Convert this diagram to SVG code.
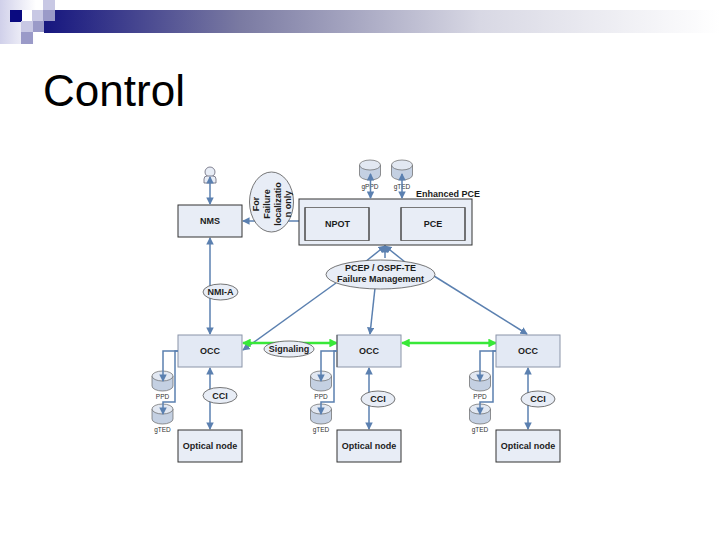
<svg xmlns="http://www.w3.org/2000/svg" width="720" height="540" viewBox="0 0 720 540">
<style>
text{font-family:"Liberation Sans",Arial,sans-serif;fill:#1c1c1c;text-anchor:middle}
.b{font-weight:bold;font-size:9px}
.s{font-size:6.500px;fill:#333}
.box{fill:#e8edf6;stroke:#333;stroke-width:1}
.occ{fill:#e3e9f4;stroke:#8a94a8;stroke-width:1}
.inner{fill:#e8edf6;stroke:#777;stroke-width:1}
.el{fill:#e8edf6;stroke:#555;stroke-width:.8}
.c{fill:none;stroke:#5b80b0;stroke-width:1.500}
.g{fill:none;stroke:#38e838;stroke-width:2.500}
.cy{fill:#c4d0e2;stroke:#666;stroke-width:.7}
.cyt{fill:#e2e8f2;stroke:#666;stroke-width:.7}
</style>
<defs>
<linearGradient id="bar"><stop offset="0" stop-color="#16167f"/><stop offset=".29" stop-color="#7a7aa2"/><stop offset=".645" stop-color="#d8d8e4"/><stop offset="1" stop-color="#fff"/></linearGradient>
<linearGradient id="fade"><stop offset="0" stop-color="#d0d0ea"/><stop offset="1" stop-color="#fff"/></linearGradient>
<marker id="a" viewBox="0 0 8 8" refX="7" refY="4" markerWidth="5" markerHeight="5" orient="auto-start-reverse"><path d="M0 0L8 4L0 8z" fill="#5b80b0"/></marker>
<marker id="ag" viewBox="0 0 8 8" refX="7" refY="4" markerWidth="3.500" markerHeight="3.500" orient="auto-start-reverse"><path d="M0 0L8 4L0 8z" fill="#38e838"/></marker>
<g id="db"><path class="cy" d="M-10.500 -5V5A10.500 5 0 0 0 10.500 5V-5"/><ellipse class="cyt" cx="0" cy="-5" rx="10.500" ry="5"/></g>
</defs>
<g id="header">
<rect x="0" y="0" width="36" height="44" fill="url(#fade)"/>
<rect x="44" y="10" width="676" height="23" fill="url(#bar)"/>
<rect x="22" y="10" width="10" height="11" fill="#fff"/>
<rect x="10" y="10" width="12" height="12" fill="#0a0a80"/>
<rect x="32" y="10" width="11" height="11" fill="#c8c8e4"/>
<rect x="43" y="0" width="12" height="10" fill="#c8c8e4"/>
<rect x="43" y="10" width="12" height="11" fill="#9a9ac8"/>
<rect x="21" y="21" width="12" height="11" fill="#c8c8e4"/>
<rect x="33" y="21" width="11" height="11" fill="#9a9ac8"/>
<rect x="21" y="32" width="12" height="12" fill="#9a9ac8"/>
</g>
<text x="114" y="106" style="font-size:44px;fill:#000">Control</text>
<g id="connectors">
<path class="c" d="M210 334V238" marker-end="url(#a)" marker-start="url(#a)"/>
<path class="c" d="M299 221H243" marker-end="url(#a)"/>
<path class="c" d="M369 224H401" marker-start="url(#a)" marker-end="url(#a)"/>
<path class="c" d="M365 262L385 246" marker-end="url(#a)"/>
<path class="c" d="M405 262L385 246" marker-end="url(#a)"/>
<path class="c" d="M385 258V246" marker-end="url(#a)"/>
<path class="c" d="M336 283L243 350" marker-end="url(#a)"/>
<path class="c" d="M375 288L370 334" marker-end="url(#a)"/>
<path class="c" d="M434 276L527 334" marker-end="url(#a)"/>
<path class="c" d="M210 368V429" marker-start="url(#a)" marker-end="url(#a)"/>
<path class="c" d="M369 368V429" marker-start="url(#a)" marker-end="url(#a)"/>
<path class="c" d="M528 368V429" marker-start="url(#a)" marker-end="url(#a)"/>
<path class="g" d="M243 343H337" marker-start="url(#ag)" marker-end="url(#ag)"/>
<path class="g" d="M402 343H496" marker-start="url(#ag)" marker-end="url(#ag)"/>
</g>
<g id="nms"><rect class="box" x="178" y="205" width="64" height="32"/><text class="b" x="210" y="224">NMS</text></g>
<g id="user"><circle cx="210" cy="172" r="5" fill="#e8edf6" stroke="#667" stroke-width=".8"/><path d="M204 183V179Q204 176 207 176H213Q216 176 216 179V183Z" fill="#e8edf6" stroke="#667" stroke-width=".8"/></g>
<g id="failure-note"><ellipse class="el" cx="271.500" cy="202" rx="22" ry="30"/><text class="b" transform="translate(258.500 204) rotate(-90)">For</text><text class="b" transform="translate(269.500 204) rotate(-90)">Failure</text><text class="b" transform="translate(280.500 204) rotate(-90)">localizatio</text><text class="b" transform="translate(291 204) rotate(-90)">n only</text></g>
<g id="enhanced-pce"><rect class="box" x="299" y="199" width="173" height="46"/><text class="b" x="448" y="197">Enhanced PCE</text></g>
<g id="npot"><rect class="inner" x="305" y="207.500" width="64" height="33"/><path d="M305 207.500V240.500M369 207.500V240.500" stroke="#333"/><text class="b" x="337.500" y="227">NPOT</text></g>
<g id="pce"><rect class="inner" x="401" y="207.500" width="64" height="33"/><path d="M401 207.500V240.500M465 207.500V240.500" stroke="#333"/><text class="b" x="433" y="227">PCE</text></g>
<g id="gppd"><use href="#db" x="370" y="170"/><text class="s" x="370" y="189">gPPD</text></g>
<g id="gted"><use href="#db" x="402" y="170"/><text class="s" x="402" y="189">gTED</text></g>
<g id="pcep"><ellipse class="el" cx="380.500" cy="274.500" rx="54.500" ry="14.500"/><text class="b" x="380.500" y="270.500">PCEP / OSPF-TE</text><text class="b" x="380.500" y="281.500">Failure Management</text></g>
<g id="nmi"><ellipse class="el" cx="220.500" cy="292" rx="17.500" ry="8"/><text class="b" x="220.500" y="295">NMI-A</text></g>
<g id="occ1"><rect class="occ" x="178" y="335" width="64" height="32"/><text class="b" x="210" y="354">OCC</text></g>
<g id="occ2"><rect class="occ" x="337" y="335" width="64" height="32"/><path d="M337 335V367" stroke="#555"/><text class="b" x="369" y="354">OCC</text></g>
<g id="occ3"><rect class="occ" x="496" y="335" width="64" height="32"/><text class="b" x="528" y="354">OCC</text></g>
<g id="signaling"><ellipse class="el" cx="289" cy="349" rx="25" ry="8"/><text class="b" x="289" y="352">Signaling</text></g>
<g id="cci1"><ellipse class="el" cx="220" cy="395.500" rx="17" ry="8"/><text class="b" x="220" y="398.500">CCI</text></g>
<g id="cci2"><ellipse class="el" cx="378" cy="399" rx="17" ry="8"/><text class="b" x="378" y="402">CCI</text></g>
<g id="cci3"><ellipse class="el" cx="538" cy="399" rx="17" ry="8"/><text class="b" x="538" y="402">CCI</text></g>
<g id="opt1"><rect class="box" x="178" y="430" width="64" height="32"/><text class="b" x="210" y="449">Optical node</text></g>
<g id="opt2"><rect class="box" x="337" y="430" width="64" height="32"/><text class="b" x="369" y="449">Optical node</text></g>
<g id="opt3"><rect class="box" x="496" y="430" width="64" height="32"/><text class="b" x="528" y="449">Optical node</text></g>
<g id="db1"><use href="#db" x="162.500" y="381"/><text class="s" x="162.500" y="399">PPD</text><use href="#db" x="162.500" y="414"/><text class="s" x="162.500" y="432">gTED</text></g>
<g id="db2"><use href="#db" x="321" y="381"/><text class="s" x="321" y="399">PPD</text><use href="#db" x="321" y="414"/><text class="s" x="321" y="432">gTED</text></g>
<g id="db3"><use href="#db" x="480" y="381"/><text class="s" x="480" y="399">PPD</text><use href="#db" x="480" y="414"/><text class="s" x="480" y="432">gTED</text></g>
<g id="connectors-db">
<path class="c" d="M210 177V204" marker-start="url(#a)" marker-end="url(#a)"/>
<path class="c" d="M370.500 174V198" marker-start="url(#a)" marker-end="url(#a)"/>
<path class="c" d="M402 174V198" marker-start="url(#a)" marker-end="url(#a)"/>
<path class="c" d="M178 351H163V381" marker-end="url(#a)"/><path class="c" d="M178 351H175V402H163V414" marker-end="url(#a)"/>
<path class="c" d="M337 351H321V381" marker-end="url(#a)"/><path class="c" d="M337 351H334V402H321V414" marker-end="url(#a)"/>
<path class="c" d="M496 351H480V381" marker-end="url(#a)"/><path class="c" d="M496 351H493V402H480V414" marker-end="url(#a)"/>
</g>
</svg>
